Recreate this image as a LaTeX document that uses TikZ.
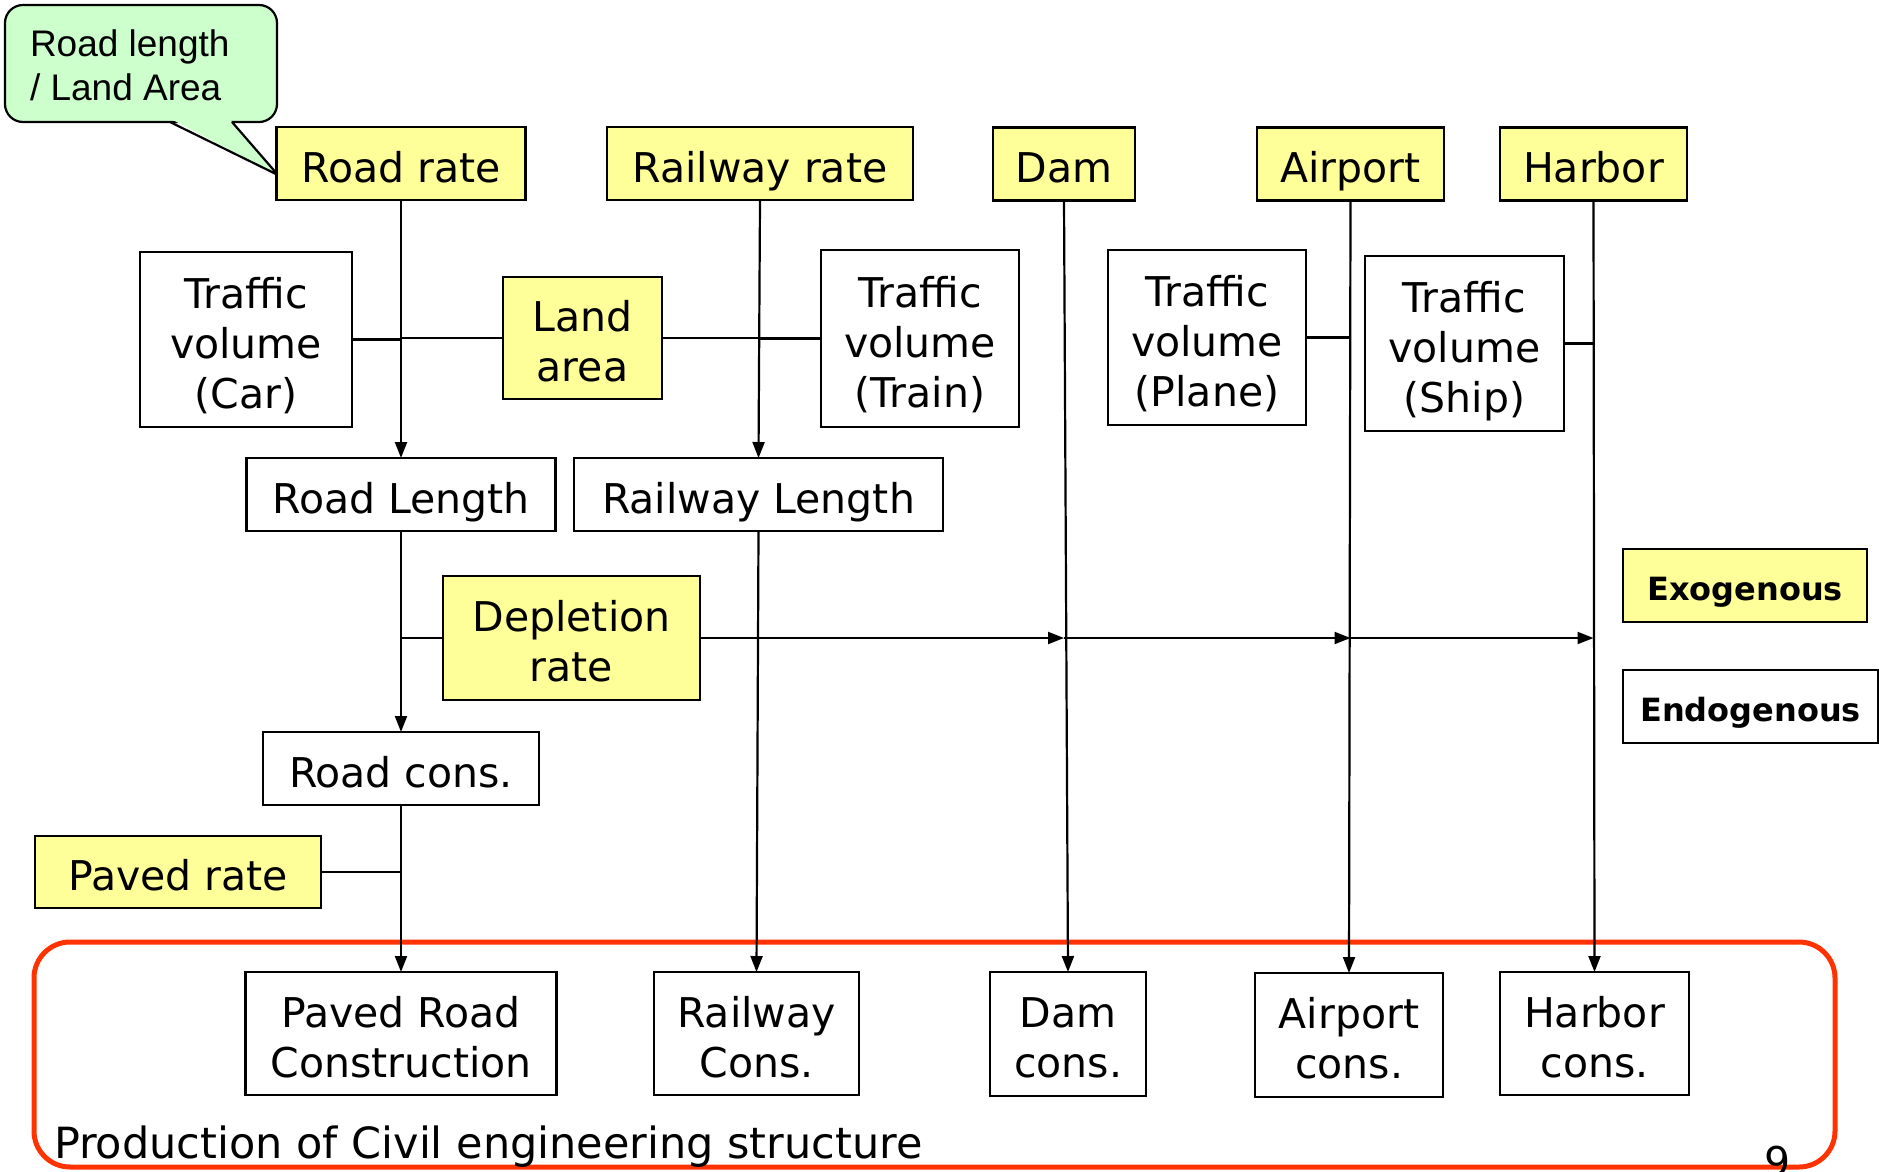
\documentclass[tikz,border=0pt]{standalone}
\usepackage{fontspec}
\setmainfont{DejaVu Sans}
\newfontfamily\notefont{Liberation Sans}
\usetikzlibrary{arrows.meta}
\definecolor{exoyellow}{HTML}{FFFF99}
\definecolor{notegreen}{HTML}{CCFFCC}
\definecolor{framered}{HTML}{FF3300}
% one line of box text with a fixed height and depth, so every box centres alike
\newcommand\boxline[1]{\raisebox{0pt}[38pt][1pt]{#1}}
\newcommand\legline[1]{\raisebox{0pt}[30pt][0pt]{#1}}

\begin{document}
\begin{tikzpicture}[x=1pt,y=-1pt,
  every node/.style={inner sep=0pt, outer sep=0pt, align=center,
                     font=\fontsize{41}{50}\selectfont},
  endo/.style={draw=black, line width=2.6pt, fill=white},
  exo/.style={endo, fill=exoyellow},
  legend/.style={font=\bfseries\fontsize{32}{38}\selectfont},
  wire/.style={line width=2.2pt},
  flow/.style={wire, -{Triangle[length=16pt,width=12pt]}},
]
\useasboundingbox (0,0) rectangle (1879,1171);

% production frame
\draw[framered, line width=5pt, rounded corners=36pt] (34,942) rectangle (1835,1167);
\node[anchor=base west, font=\fontsize{43}{50}\selectfont] (prodlabel) at (54,1158) {Production of Civil engineering structure};
\node[anchor=base west] (pagenum) at (1764,1176) {9};

% note on the road rate
\draw[line width=2.2pt, fill=notegreen, rounded corners=18pt] (5,5) rectangle (277,122);
\fill[notegreen] (172,119.6) -- (230,119.6) -- (278,175) -- cycle;
\draw[line width=2.2pt] (170,122) -- (278,175) -- (232,122);
\node[anchor=north west, align=left, font=\notefont\fontsize{37}{44}\selectfont] (note) at (30,30)
  {Road length\\/ Land Area};

% exogenous inputs (top row)
\node[exo, minimum width=249pt, minimum height=73pt] (roadrate) at (401,163.5) {\boxline{Road rate}};
\node[exo, minimum width=306pt, minimum height=73pt] (railrate) at (760,163.5) {\boxline{Railway rate}};
\node[exo, minimum width=142pt, minimum height=73pt] (dam) at (1064,164) {\boxline{Dam}};
\node[exo, minimum width=187pt, minimum height=73pt] (airport) at (1350.5,164) {\boxline{Airport}};
\node[exo, minimum width=187pt, minimum height=73pt] (harbor) at (1593.5,164) {\boxline{Harbor}};

% traffic volumes and land area
\node[endo, minimum width=212pt, minimum height=175pt] (car) at (246,339.5)
  {\boxline{Traffic}\\\boxline{volume}\\\boxline{(Car)}};
\node[exo, minimum width=159pt, minimum height=122pt] (land) at (582.5,338)
  {\boxline{Land}\\\boxline{area}};
\node[endo, minimum width=198pt, minimum height=177pt] (train) at (920,338.5)
  {\boxline{Traffic}\\\boxline{volume}\\\boxline{(Train)}};
\node[endo, minimum width=198pt, minimum height=175pt] (plane) at (1207,337.5)
  {\boxline{Traffic}\\\boxline{volume}\\\boxline{(Plane)}};
\node[endo, minimum width=199pt, minimum height=175pt] (ship) at (1464.5,343.5)
  {\boxline{Traffic}\\\boxline{volume}\\\boxline{(Ship)}};

% lengths
\node[endo, minimum width=309pt, minimum height=73pt] (roadlen) at (401,494.5) {\boxline{Road Length}};
\node[endo, minimum width=369pt, minimum height=73pt] (raillen) at (758.5,494.5) {\boxline{Railway Length}};

% depletion, road cons., paved rate
\node[exo, minimum width=257pt, minimum height=124pt] (deplete) at (571.5,638)
  {\boxline{Depletion}\\\boxline{rate}};
\node[endo, minimum width=276pt, minimum height=73pt] (roadcons) at (401,768.5) {\boxline{Road cons.}};
\node[exo, minimum width=286pt, minimum height=72pt] (paved) at (178,872) {\boxline{Paved rate}};

% construction outputs
\node[endo, minimum width=311pt, minimum height=123pt] (pavedcons) at (401,1033.5)
  {\boxline{Paved Road}\\\boxline{Construction}};
\node[endo, minimum width=205pt, minimum height=123pt] (railcons) at (756.5,1033.5)
  {\boxline{Railway}\\\boxline{Cons.}};
\node[endo, minimum width=156pt, minimum height=124pt] (damcons) at (1068,1034)
  {\boxline{Dam}\\\boxline{cons.}};
\node[endo, minimum width=188pt, minimum height=124pt] (airportcons) at (1349,1035)
  {\boxline{Airport}\\\boxline{cons.}};
\node[endo, minimum width=189pt, minimum height=123pt] (harborcons) at (1594.5,1033.5)
  {\boxline{Harbor}\\\boxline{cons.}};

% legend
\node[exo, legend, minimum width=244pt, minimum height=73pt] (legexo) at (1745,585.5) {\legline{Exogenous}};
\node[endo, legend, minimum width=255pt, minimum height=73pt] (legendo) at (1750.5,706.5) {\legline{Endogenous}};

% vertical flows
\draw[flow] (roadrate.south) -- (roadlen.north);
\draw[flow] (roadlen.south) -- (roadcons.north);
\draw[flow] (roadcons.south) -- (pavedcons.north);
\draw[flow] (railrate.south) -- (raillen.north);
\draw[flow] (raillen.south) -- (railcons.north);
\draw[flow] (dam.south) -- (damcons.north);
\draw[flow] (airport.south) -- (airportcons.north);
\draw[flow] (harbor.south) -- (harborcons.north);

% side inputs
\draw[wire] (car.east) -- (car.east -| roadrate.south);
\draw[wire] (land.west) -- (land.west -| roadrate.south);
\draw[wire] (land.east) -- (land.east -| railrate.south);
\draw[wire] (train.west) -- (train.west -| railrate.south);
\draw[wire] (plane.east) -- (plane.east -| airport.south);
\draw[wire] (ship.east) -- (ship.east -| harbor.south);
\draw[wire] (deplete.west) -- (deplete.west -| roadlen.south);
\draw[wire] (paved.east) -- (paved.east -| roadcons.south);

% depletion rate feeding dam, airport and harbor
\draw[flow] (deplete.east) -- (deplete.east -| dam.south);
\draw[flow] (deplete.east -| dam.south) -- (deplete.east -| airport.south);
\draw[flow] (deplete.east -| airport.south) -- (deplete.east -| harbor.south);
\end{tikzpicture}
\end{document}
